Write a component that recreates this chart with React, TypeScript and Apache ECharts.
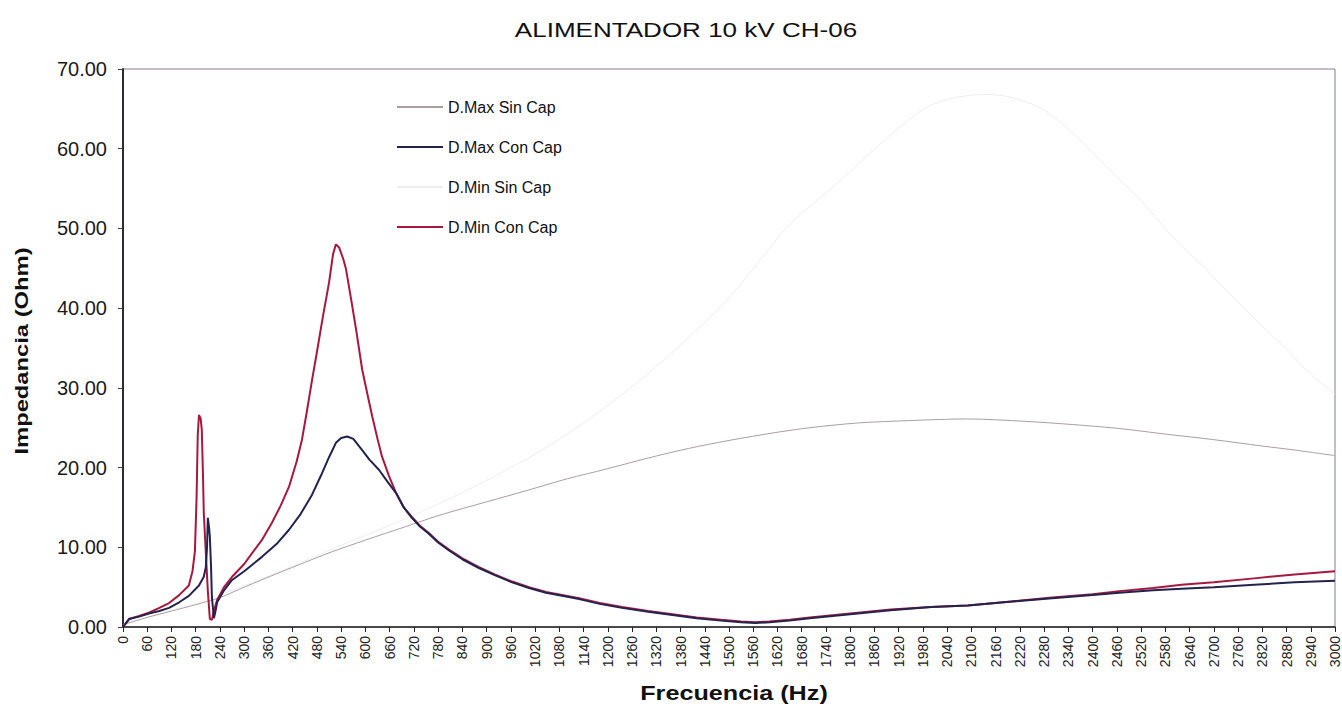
import React, { useEffect, useRef } from "react";
import * as echarts from "echarts";

const FONT = "'Liberation Sans', Arial, Helvetica, sans-serif";

const titleText = "ALIMENTADOR 10 kV CH-06";
const xAxisTitle = "Frecuencia (Hz)";
const yAxisTitle = "Impedancia (Ohm)";
const seriesNames = ["D.Max Sin Cap", "D.Max Con Cap", "D.Min Sin Cap", "D.Min Con Cap"];

// D.Max Sin Cap
const maxSinHz = [0, 60, 120, 180, 240, 300, 386, 450, 510, 600, 700, 782, 900, 1005, 1100, 1195, 1300, 1400, 1500, 1616, 1700, 1820, 1950, 2091, 2233, 2350, 2466, 2580, 2700, 2820, 2900, 3000];
const maxSinZ = [0.3, 1.2, 2.0, 2.8, 3.7, 5.0, 6.8, 8.1, 9.3, 10.9, 12.6, 14.0, 15.7, 17.2, 18.6, 19.8, 21.2, 22.4, 23.4, 24.4, 25.0, 25.6, 25.9, 26.1, 25.8, 25.4, 24.9, 24.2, 23.5, 22.7, 22.2, 21.5];

// D.Max Con Cap
const maxConHz = [0, 15, 40, 64, 90, 114, 139, 163, 188, 200, 205, 208, 210, 213, 215, 218, 220, 225, 229, 233, 250, 270, 300, 344, 380, 411, 440, 468, 490, 510, 527, 540, 555, 570, 592, 610, 634, 655, 676, 695, 715, 735, 757, 780, 807, 840, 881, 920, 963, 1005, 1047, 1090, 1129, 1180, 1235, 1300, 1360, 1420, 1480, 1530, 1565, 1600, 1650, 1700, 1800, 1900, 2000, 2091, 2200, 2300, 2400, 2466, 2550, 2620, 2700, 2800, 2900, 3000];
const maxConZ = [0.0, 1.0, 1.3, 1.7, 2.0, 2.4, 3.1, 3.9, 5.2, 6.3, 7.5, 10.0, 13.7, 12.5, 11.3, 7.5, 3.8, 1.1, 2.0, 3.1, 4.6, 5.9, 7.0, 8.8, 10.4, 12.2, 14.2, 16.6, 19.0, 21.3, 23.1, 23.7, 23.9, 23.6, 22.2, 21.0, 19.7, 18.2, 16.8, 15.0, 13.7, 12.6, 11.7, 10.6, 9.6, 8.5, 7.4, 6.5, 5.6, 4.9, 4.3, 3.9, 3.5, 2.9, 2.4, 1.9, 1.5, 1.1, 0.8, 0.6, 0.5, 0.6, 0.8, 1.1, 1.6, 2.1, 2.5, 2.7, 3.2, 3.6, 4.0, 4.3, 4.6, 4.8, 5.0, 5.3, 5.6, 5.8];

// D.Min Sin Cap
const minSinHz = [0, 100, 200, 300, 400, 500, 600, 700, 800, 900, 1000, 1100, 1200, 1300, 1400, 1500, 1577, 1640, 1700, 1760, 1850, 1930, 1993, 2060, 2130, 2195, 2275, 2350, 2441, 2522, 2581, 2640, 2688, 2745, 2829, 2880, 2936, 3000];
const minSinZ = [0.3, 1.8, 3.3, 5.2, 7.2, 9.4, 11.5, 13.6, 15.9, 18.4, 21.1, 24.2, 27.8, 31.8, 36.3, 41.3, 46.0, 50.0, 52.8, 55.3, 59.5, 63.0, 65.3, 66.4, 66.8, 66.5, 65.0, 62.0, 57.4, 53.4, 49.9, 46.9, 44.5, 41.5, 37.3, 34.8, 31.9, 29.2];

// D.Min Con Cap
const minConHz = [0, 15, 40, 64, 90, 114, 139, 163, 172, 178, 182, 185, 188, 192, 195, 198, 200, 205, 210, 215, 220, 226, 233, 250, 270, 300, 320, 345, 369, 390, 411, 430, 443, 455, 468, 480, 495, 510, 520, 527, 535, 545, 552, 565, 577, 592, 605, 617, 630, 641, 658, 676, 695, 715, 735, 757, 780, 807, 840, 881, 920, 963, 1005, 1047, 1090, 1129, 1180, 1235, 1300, 1360, 1420, 1480, 1530, 1565, 1600, 1650, 1700, 1800, 1900, 2000, 2091, 2200, 2300, 2400, 2466, 2550, 2620, 2700, 2800, 2900, 3000];
const minConZ = [0.0, 1.0, 1.4, 1.8, 2.4, 3.0, 4.0, 5.2, 7.0, 9.5, 16.0, 24.0, 26.6, 26.2, 24.8, 19.0, 14.3, 9.3, 4.5, 1.0, 0.9, 2.2, 3.4, 5.0, 6.3, 7.9, 9.3, 11.0, 13.1, 15.2, 17.6, 20.8, 23.5, 27.0, 31.0, 34.5, 39.0, 43.2, 46.8, 48.0, 47.6, 46.2, 44.9, 41.0, 37.3, 32.3, 29.2, 26.4, 23.6, 21.4, 19.0, 16.8, 15.0, 13.8, 12.7, 11.8, 10.7, 9.7, 8.6, 7.5, 6.6, 5.7, 5.0, 4.4, 4.0, 3.6, 3.0, 2.5, 2.0, 1.6, 1.2, 0.9, 0.7, 0.6, 0.7, 0.9, 1.2, 1.7, 2.2, 2.5, 2.7, 3.2, 3.7, 4.1, 4.5, 4.9, 5.3, 5.6, 6.1, 6.6, 7.0];

const pairs = (hz: number[], z: number[]) => hz.map((h, i) => [h, z[i]]);

export default function App() {
  const ref = useRef<HTMLDivElement>(null);

  useEffect(() => {
    document.body.style.margin = "0";
    if (!ref.current) return;
    const chart = echarts.init(ref.current, null, { renderer: "svg" });

    const mkLine = (name: string, hz: number[], z: number[], color: string, width: number, smooth: number | boolean) => ({
      name,
      type: "line",
      data: pairs(hz, z),
      symbol: "none",
      showSymbol: false,
      smooth,
      lineStyle: { color, width },
      itemStyle: { color },
      emphasis: { disabled: true },
    });

    chart.setOption({
      animation: false,
      backgroundColor: "#ffffff",
      grid: {
        left: 123,
        right: 5,
        top: 69,
        bottom: 81,
        show: true,
        borderColor: "#8a7a9c",
        borderWidth: 1,
        backgroundColor: "transparent",
      },
      xAxis: {
        type: "value",
        min: 0,
        max: 3000,
        interval: 60,
        axisLine: { show: true, onZero: false, lineStyle: { color: "#222", width: 1.5 } },
        axisTick: { show: true, length: 5, lineStyle: { color: "#222" } },
        axisLabel: {
          rotate: 90,
          fontSize: 14,
          color: "#222",
          margin: 9,
          fontFamily: FONT,
          showMinLabel: true,
          showMaxLabel: true,
          formatter: (v: number) => String(v),
        },
        splitLine: { show: false },
      },
      yAxis: {
        type: "value",
        min: 0,
        max: 70,
        interval: 10,
        axisLine: { show: true, lineStyle: { color: "#2a2a3a", width: 2 } },
        axisTick: { show: true, length: 5, lineStyle: { color: "#444" } },
        axisLabel: {
          formatter: (v: number) => v.toFixed(2),
          fontSize: 20,
          color: "#1a1a1a",
          margin: 16,
          fontFamily: FONT,
        },
        splitLine: { show: false },
      },
      legend: {
        data: seriesNames,
        orient: "vertical",
        left: 392,
        top: 94,
        icon: "rect",
        itemWidth: 46,
        itemHeight: 2,
        itemGap: 24,
        textStyle: { fontSize: 16, color: "#111", fontFamily: FONT },
      },
      graphic: [
        {
          type: "text",
          x: 686,
          y: 30,
          scaleX: 1.24,
          style: {
            text: titleText,
            fontSize: 21,
            fontFamily: FONT,
            fill: "#111",
            align: "center",
            verticalAlign: "middle",
          },
        },
        {
          type: "text",
          x: 734,
          y: 693,
          scaleX: 1.26,
          style: {
            text: xAxisTitle,
            fontSize: 20,
            fontWeight: "bold",
            fontFamily: FONT,
            fill: "#111",
            align: "center",
            verticalAlign: "middle",
          },
        },
        {
          type: "text",
          x: 22,
          y: 351,
          rotation: Math.PI / 2,
          scaleX: 1.25,
          style: {
            text: yAxisTitle,
            fontSize: 19,
            fontWeight: "bold",
            fontFamily: FONT,
            fill: "#111",
            align: "center",
            verticalAlign: "middle",
          },
        },
      ],
      series: [
        mkLine(seriesNames[2], minSinHz, minSinZ, "#eeeeee", 1, 0.3),
        mkLine(seriesNames[0], maxSinHz, maxSinZ, "#ab9f9f", 1, 0.3),
        mkLine(seriesNames[3], minConHz, minConZ, "#a8183e", 2, false),
        mkLine(seriesNames[1], maxConHz, maxConZ, "#23234e", 2, false),
      ],
    });

    return () => chart.dispose();
  }, []);

  return <div ref={ref} style={{ width: 1342, height: 708 }} />;
}
